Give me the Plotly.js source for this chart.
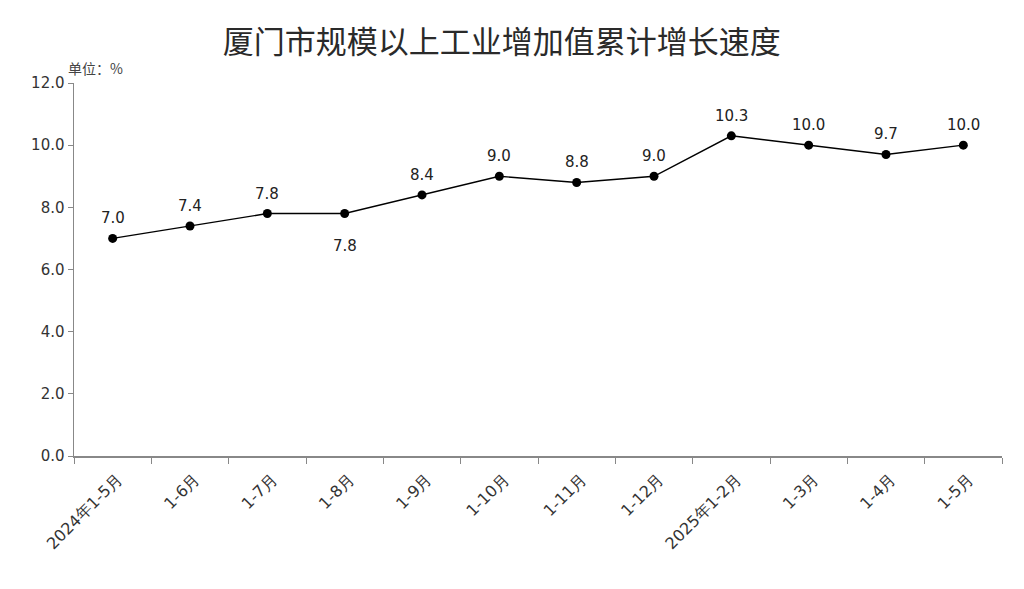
<!DOCTYPE html>
<html>
<head>
<meta charset="utf-8">
<script src="https://cdn.plot.ly/plotly-3.0.1.min.js"></script>
<style>html,body{margin:0;padding:0;background:#fff;}#chart{width:1024px;height:589px;}</style>
</head>
<body>
<div id="chart"></div>
<script>
const categories = ["2024年1-5月","1-6月","1-7月","1-8月","1-9月","1-10月","1-11月","1-12月","2025年1-2月","1-3月","1-4月","1-5月"];
const growth = [7.0, 7.4, 7.8, 7.8, 8.4, 9.0, 8.8, 9.0, 10.3, 10.0, 9.7, 10.0];
const labelBelow = [false, false, false, true, false, false, false, false, false, false, false, false];
const yTicks = [0, 2, 4, 6, 8, 10, 12];

const trace = {
  x: categories,
  y: growth,
  type: "scatter",
  mode: "lines+markers",
  line: {color: "#000", width: 1.4},
  marker: {color: "#000", size: 9},
  cliponaxis: false,
  hoverinfo: "skip"
};

const valueLabels = categories.map((c, i) => ({
  x: c, y: growth[i], xref: "x", yref: "y",
  text: growth[i].toFixed(1), showarrow: false,
  yshift: labelBelow[i] ? -32 : 20,
  font: {family: "DejaVu Sans", size: 15, color: "#222"}
}));

const layout = {
  width: 1024, height: 589,
  margin: {l: 74, r: 22, t: 83, b: 133},
  paper_bgcolor: "#fff", plot_bgcolor: "#fff",
  showlegend: false,
  title: {text: "厦门市规模以上工业增加值累计增长速度", x: 0.49, xanchor: "center", y: 0.928, yanchor: "middle",
          font: {family: "Noto Sans CJK SC", size: 31, color: "#2a2a2a"}},
  xaxis: {
    type: "category", range: [-0.5, 11.5],
    tickson: "boundaries", ticks: "outside", ticklen: 6, tickcolor: "#888",
    showline: true, linecolor: "#888", linewidth: 1.5, showgrid: false, zeroline: false,
    tickangle: -45, ticklabelstandoff: 6, ticklabelshift: 5,
    tickfont: {family: "DejaVu Sans", size: 16, color: "#333"}
  },
  yaxis: {
    range: [0, 12], tickvals: yTicks, ticktext: yTicks.map(v => v.toFixed(1)),
    ticks: "outside", ticklen: 5, tickcolor: "#888",
    showline: true, linecolor: "#888", linewidth: 1.5, showgrid: false, zeroline: false,
    tickfont: {family: "DejaVu Sans", size: 15, color: "#333"}
  },
  annotations: valueLabels.concat([{
    text: "单位：%", xref: "paper", yref: "paper", x: 0.023, y: 1.0, xanchor: "center", yanchor: "middle", yshift: 15,
    showarrow: false, font: {family: "Noto Sans CJK SC", size: 14, color: "#444"}
  }])
};

Plotly.newPlot("chart", [trace], layout, {displayModeBar: false, staticPlot: true});
</script>
</body>
</html>
